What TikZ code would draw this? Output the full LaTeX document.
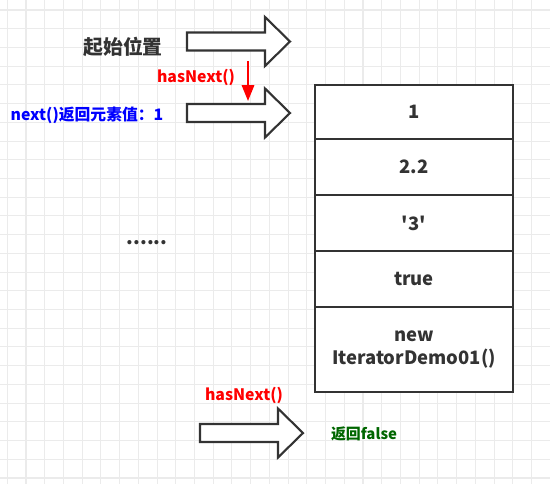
\documentclass[tikz,border=0pt]{standalone}
\usepackage{fontspec}
\setmainfont{Noto Sans CJK SC}[Ligatures=TeXOff]
\usetikzlibrary{arrows.meta,positioning}
\definecolor{inkgray}{HTML}{333333}
\definecolor{gridgray}{HTML}{EBEBEB}
\definecolor{hintred}{HTML}{FF0000}
\definecolor{hintblue}{HTML}{0000FF}
\definecolor{hintgreen}{HTML}{006600}
\newlength\pxu
\setlength\pxu{0.02cm}
\tikzset{
  gridline/.style={draw=gridgray,line width=0.6pt},
  blockarrow/.style={draw=inkgray,line width=1.2pt,fill=white,line join=miter},
  cell/.style={draw=inkgray,line width=1.2pt,fill=white,minimum width=198\pxu,align=center,text=inkgray,font=\bfseries\fontsize{10.5}{13}\selectfont},
  hint/.style={font=\bfseries\fontsize{9}{11}\selectfont}
}
% block arrow: left x, tip x, centre y
\newcommand\bigarrow[3]{%
  \draw[blockarrow] (#1,#3-9) -- (#2-25,#3-9) -- (#2-25,#3-24.5) -- (#2,#3)
    -- (#2-25,#3+24.5) -- (#2-25,#3+9) -- (#1,#3+9) -- cycle;}
\begin{document}
\begin{tikzpicture}[x=0.02cm,y=-0.02cm,every node/.style={inner sep=0pt}]
  \useasboundingbox (0,0) rectangle (550,484);
  \foreach \k in {0,...,29}{\draw[gridline] (7.3+18.72*\k,0)--(7.3+18.72*\k,484);}
  \foreach \k in {0,...,25}{\draw[gridline] (0,10+18.72*\k)--(550,10+18.72*\k);}
  % pointer arrows
  \bigarrow{187}{290}{41.5}
  \bigarrow{187}{290}{113}
  \bigarrow{200}{303}{433}
  \coordinate (movefrom) at (248,61);
  \coordinate (moveto) at (248,101);
  \draw[hintred,line width=1.2pt,-{Triangle[length=9pt,width=7pt]}] (movefrom)--(moveto);
  % labels
  \node[text=inkgray,font=\bfseries\fontsize{11.3}{13}\selectfont] (start) at (123,47) {起始位置};
  \node[hint,text=hintred] (hasnext1) at (196,77) {hasNext()};
  \node[hint,text=hintblue] (nextval) at (87,115) {next()返回元素值：1};
  \node[text=inkgray,font=\bfseries\fontsize{11}{13}\selectfont] (dots) at (147,243) {......};
  \node[hint,text=hintred] (hasnext2) at (244,395) {hasNext()};
  \node[hint,text=hintgreen,font=\bfseries\fontsize{8.5}{10}\selectfont] (retfalse) at (364,434) {返回false};
  % the collection
  \node[cell,minimum height=54\pxu] (c1) at (414,112) {1};
  \node[cell,minimum height=56.3\pxu] (c2) at (414,167.15) {2.2};
  \node[cell,minimum height=55.7\pxu] (c3) at (414,223.15) {'3'};
  \node[cell,minimum height=56.3\pxu] (c4) at (414,279.15) {true};
  \node[cell,minimum height=85\pxu] (c5) at (414,349.8) {new\\IteratorDemo01()};
\end{tikzpicture}
\end{document}
